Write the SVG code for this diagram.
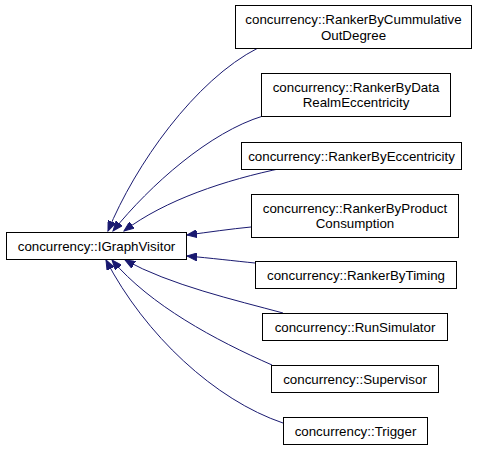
<svg xmlns="http://www.w3.org/2000/svg" width="480" height="449" viewBox="0 0 480 449">
<style>
.box{fill:#ffffff;stroke:#000000;stroke-width:1}
.lbl{font-family:"Liberation Sans",Arial,sans-serif;font-size:13.33px;fill:#000000;text-anchor:middle}
.edge{fill:none;stroke:#191970;stroke-width:1;marker-end:url(#arr)}
</style>
<defs>
<marker id="arr" markerUnits="userSpaceOnUse" markerWidth="11" markerHeight="8" refX="10" refY="4" orient="auto">
<path d="M0,0 L10,4 L0,8 z" fill="#191970" stroke="#191970"/>
</marker>
</defs>
<g id="connectors">
<path class="edge" d="M258,48 C195,80 135,165 108,231"/>
<path class="edge" d="M263,116 C210,132 150,185 113,231"/>
<path class="edge" d="M283,168 C225,180 165,200 124,231"/>
<path class="edge" d="M251,227 C230,229 210,232 187,235"/>
<path class="edge" d="M255,263 C235,261 210,258 187,256"/>
<path class="edge" d="M283,313 C235,300 170,285 125,260"/>
<path class="edge" d="M272,365 C215,340 150,305 112,260"/>
<path class="edge" d="M283,423 C215,400 145,335 106,260"/>
</g>
<g id="IGraphVisitor">
<rect class="box" x="6.5" y="232.5" width="180" height="27"/>
<text class="lbl" x="96.5" y="250.5">concurrency::IGraphVisitor</text>
</g>
<g id="RankerByCummulativeOutDegree">
<rect class="box" x="235.5" y="5.5" width="236" height="43"/>
<text class="lbl" x="353.5" y="24">concurrency::RankerByCummulative</text>
<text class="lbl" x="353.5" y="39.5">OutDegree</text>
</g>
<g id="RankerByDataRealmEccentricity">
<rect class="box" x="261.5" y="73.5" width="189" height="43"/>
<text class="lbl" x="356" y="91.5">concurrency::RankerByData</text>
<text class="lbl" x="356" y="107">RealmEccentricity</text>
</g>
<g id="RankerByEccentricity">
<rect class="box" x="241.5" y="142.5" width="220" height="27"/>
<text class="lbl" x="351.5" y="160.5">concurrency::RankerByEccentricity</text>
</g>
<g id="RankerByProductConsumption">
<rect class="box" x="251.5" y="194.5" width="207" height="43"/>
<text class="lbl" x="355" y="212.5">concurrency::RankerByProduct</text>
<text class="lbl" x="355" y="228">Consumption</text>
</g>
<g id="RankerByTiming">
<rect class="box" x="255.5" y="261.5" width="201" height="27"/>
<text class="lbl" x="356" y="279.5">concurrency::RankerByTiming</text>
</g>
<g id="RunSimulator">
<rect class="box" x="262.5" y="313.5" width="185" height="27"/>
<text class="lbl" x="355" y="331.5">concurrency::RunSimulator</text>
</g>
<g id="Supervisor">
<rect class="box" x="271.5" y="365.5" width="167" height="27"/>
<text class="lbl" x="355" y="383.5">concurrency::Supervisor</text>
</g>
<g id="Trigger">
<rect class="box" x="283.5" y="417.5" width="144" height="27"/>
<text class="lbl" x="355.5" y="435.5">concurrency::Trigger</text>
</g>
</svg>
